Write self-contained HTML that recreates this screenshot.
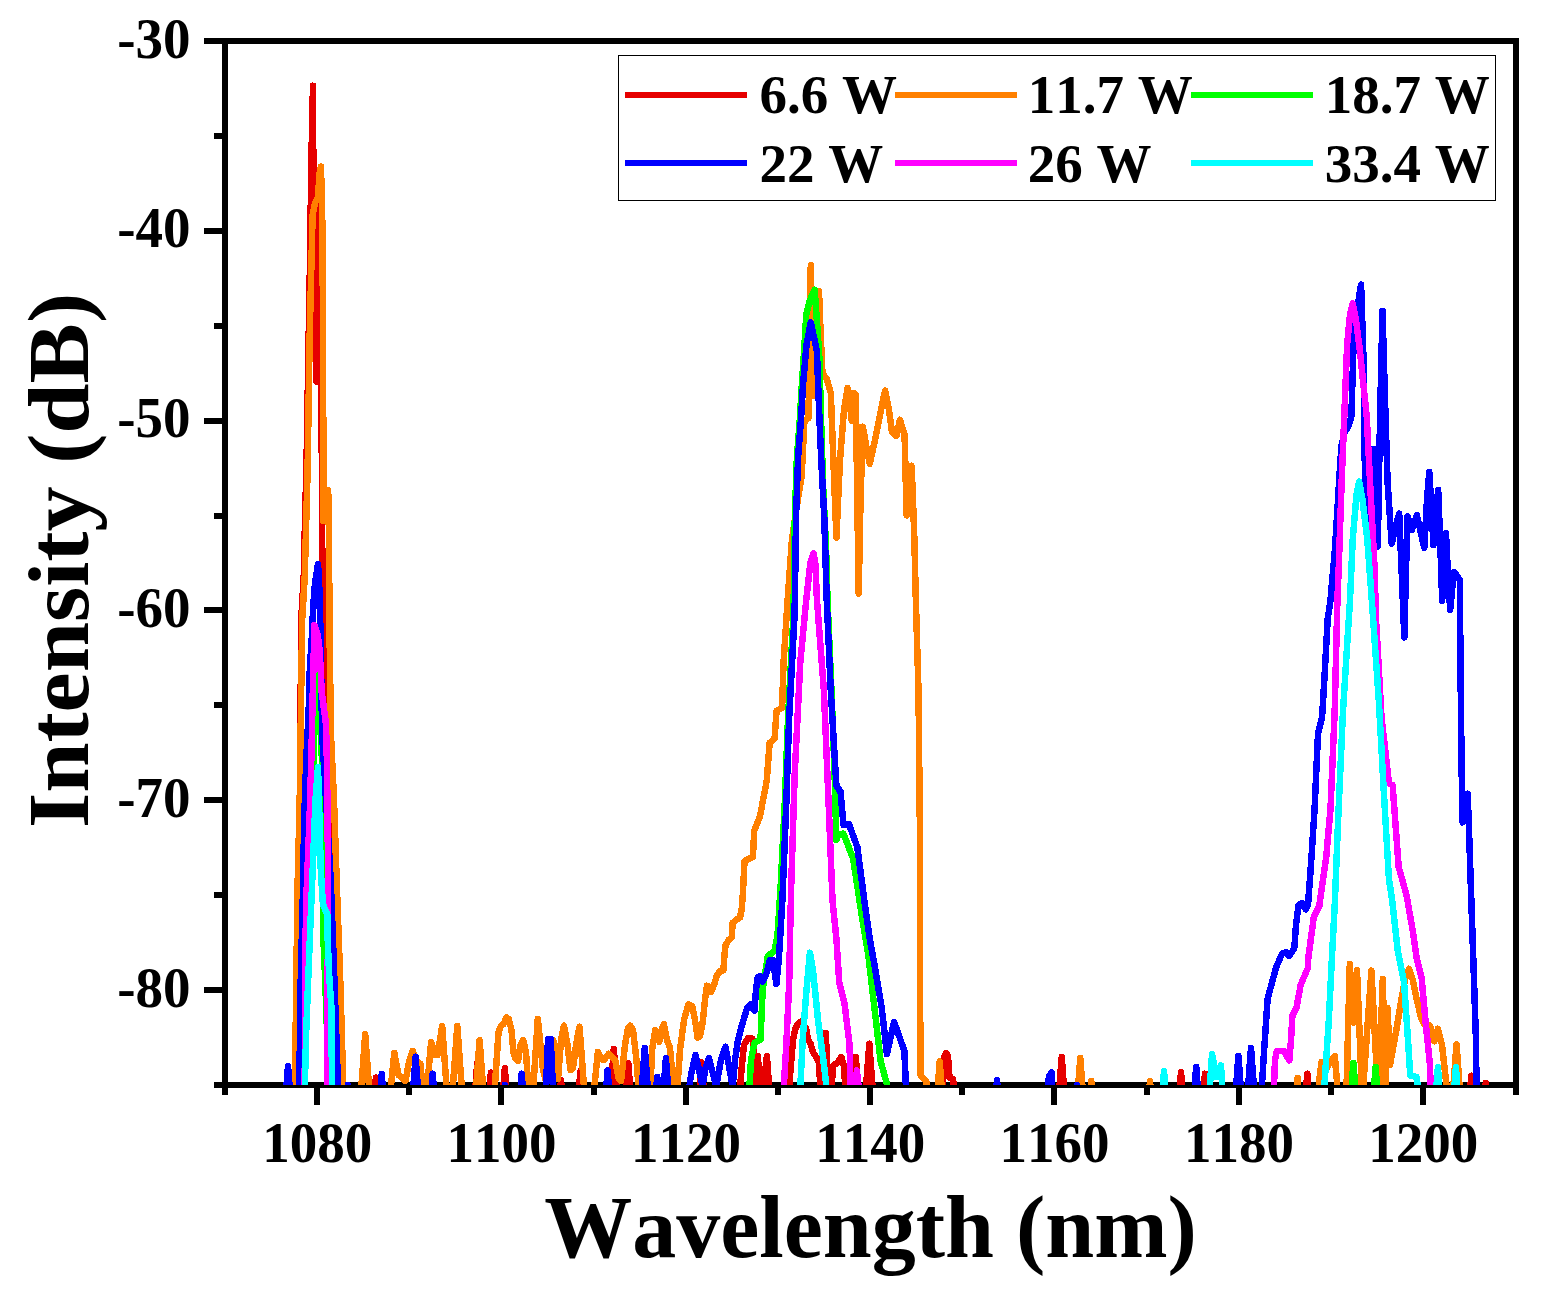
<!DOCTYPE html>
<html lang="en"><head><meta charset="utf-8"><title>Intensity vs Wavelength</title>
<style>html,body{margin:0;padding:0;background:#fff}body{width:1547px;height:1293px;overflow:hidden}svg{display:block}text{font-family:"Liberation Serif",serif;font-weight:bold;fill:#000;font-kerning:none}</style></head><body>
<svg width="1547" height="1293" viewBox="0 0 1547 1293">
<rect width="1547" height="1293" fill="#fff"/>
<defs><clipPath id="plot"><rect x="225" y="41" width="1291" height="1044"/></clipPath></defs>
<g fill="#000" shape-rendering="crispEdges">
<rect x="214" y="38" width="1305" height="6"/>
<rect x="214" y="1082" width="1305" height="6"/>
<rect x="222" y="38" width="6" height="1057"/>
<rect x="1513" y="38" width="6" height="1057"/>
<rect x="314" y="1088" width="6" height="17"/>
<rect x="406" y="1088" width="6" height="7"/>
<rect x="498" y="1088" width="6" height="17"/>
<rect x="591" y="1088" width="6" height="7"/>
<rect x="683" y="1088" width="6" height="17"/>
<rect x="775" y="1088" width="6" height="7"/>
<rect x="867" y="1088" width="6" height="17"/>
<rect x="959" y="1088" width="6" height="7"/>
<rect x="1051" y="1088" width="6" height="17"/>
<rect x="1144" y="1088" width="6" height="7"/>
<rect x="1236" y="1088" width="6" height="17"/>
<rect x="1328" y="1088" width="6" height="7"/>
<rect x="1420" y="1088" width="6" height="17"/>
<rect x="204" y="38" width="18" height="6"/>
<rect x="214" y="133" width="8" height="6"/>
<rect x="204" y="228" width="18" height="6"/>
<rect x="214" y="323" width="8" height="6"/>
<rect x="204" y="418" width="18" height="6"/>
<rect x="214" y="513" width="8" height="6"/>
<rect x="204" y="607" width="18" height="6"/>
<rect x="214" y="702" width="8" height="6"/>
<rect x="204" y="797" width="18" height="6"/>
<rect x="214" y="892" width="8" height="6"/>
<rect x="204" y="987" width="18" height="6"/>
</g>
<g clip-path="url(#plot)" fill="none" stroke-width="6.5" stroke-linejoin="round" stroke-linecap="round" shape-rendering="crispEdges">
<polyline stroke="#e60000" points="226.0,1100.0 297.0,1100.0 298.5,1085.0 300.0,800.0 301.2,619.0 303.7,578.0 305.0,520.0 306.4,470.0 307.6,400.0 308.6,340.0 310.2,250.0 311.2,172.0 312.2,120.0 313.0,85.7 313.1,120.0 313.3,157.0 314.0,200.0 315.3,300.0 316.3,381.5 317.8,300.0 319.5,178.0 321.0,300.0 321.7,430.0 322.0,540.0 325.0,627.0 327.0,680.0 333.0,881.0 338.0,1100.0 374.1,1100.0 375.9,1077.6 377.7,1100.0 474.5,1100.0 477.3,1062.5 480.1,1100.0 488.8,1100.0 490.9,1072.6 493.0,1100.0 502.4,1100.0 504.8,1068.3 507.2,1100.0 559.4,1100.0 561.0,1080.0 562.6,1100.0 578.2,1100.0 580.4,1071.2 582.6,1100.0 610.0,1100.0 613.8,1048.9 617.6,1100.0 625.5,1100.0 628.3,1063.5 631.1,1100.0 698.9,1100.0 701.7,1062.3 704.5,1100.0 739.0,1100.0 741.5,1070.0 744.0,1045.0 748.0,1038.0 752.4,1038.5 755.0,1060.0 755.5,1086.0 757.6,1056.0 762.2,1100.0 766.9,1056.0 770.0,1100.0 788.0,1100.0 790.5,1070.0 793.0,1040.0 795.8,1027.0 799.0,1023.0 802.0,1021.0 803.0,1023.0 806.2,1029.0 808.0,1040.0 810.3,1043.0 813.0,1052.0 818.6,1061.0 821.5,1100.0 823.0,1100.0 825.8,1033.0 828.5,1100.0 831.0,1100.0 833.0,1066.0 838.0,1062.0 841.3,1057.0 844.0,1066.0 846.0,1100.0 852.6,1100.0 855.8,1057.0 859.0,1100.0 865.1,1100.0 869.3,1043.7 873.5,1100.0 942.0,1100.0 944.5,1056.0 946.3,1053.0 948.0,1056.0 949.5,1078.0 953.0,1079.0 956.0,1100.0 1058.5,1100.0 1061.7,1057.0 1064.9,1100.0 1178.8,1100.0 1181.0,1072.0 1183.2,1100.0 1202.9,1100.0 1205.0,1073.7 1207.1,1100.0 1305.2,1100.0 1307.3,1073.7 1309.4,1100.0 1469.4,1100.0 1471.3,1075.7 1473.2,1100.0 1484.4,1100.0 1485.8,1083.0 1487.2,1100.0 1515.0,1100.0"/>
<polyline stroke="#ff8000" points="292.5,1100.0 294.6,1085.0 296.0,1009.0 297.4,893.0 299.7,800.0 302.2,619.0 304.7,578.0 307.6,470.0 309.6,340.0 311.5,260.0 312.6,215.0 315.0,203.0 317.8,198.0 319.8,172.0 321.0,166.5 322.5,230.0 323.0,340.0 323.3,430.0 323.3,521.0 328.2,490.0 329.0,540.0 329.6,637.0 331.0,735.0 334.0,800.0 337.1,893.0 340.4,985.0 342.4,1055.0 343.3,1083.0 344.5,1100.0 360.4,1100.0 365.2,1034.4 370.0,1100.0 389.5,1100.0 394.3,1052.8 398.5,1075.0 402.0,1078.0 405.5,1081.0 409.0,1062.0 412.7,1050.9 416.5,1061.0 420.5,1064.0 423.5,1100.0 426.0,1100.0 431.1,1042.1 435.0,1055.0 437.5,1055.0 442.2,1026.0 447.5,1100.0 451.9,1100.0 457.3,1026.0 462.7,1100.0 475.2,1100.0 479.6,1040.2 484.0,1100.0 494.0,1100.0 498.5,1032.0 501.0,1025.7 503.5,1024.0 506.5,1017.5 508.7,1018.9 511.5,1030.0 513.5,1053.0 515.5,1058.6 518.0,1061.0 520.5,1045.0 523.2,1040.2 526.0,1052.0 529.0,1100.0 532.5,1100.0 537.8,1018.9 543.0,1070.0 546.0,1081.0 549.0,1050.0 553.3,1040.0 556.0,1060.0 558.0,1079.0 561.0,1040.0 564.0,1025.7 567.5,1045.0 570.5,1070.0 573.0,1068.0 576.0,1045.0 579.5,1026.6 585.0,1100.0 593.0,1100.0 597.9,1051.8 601.5,1059.0 604.0,1060.0 608.6,1053.8 612.0,1057.0 615.4,1060.6 618.5,1078.0 621.0,1081.0 625.0,1045.0 628.0,1028.0 630.3,1025.7 633.0,1030.0 636.5,1060.0 639.5,1100.0 650.0,1100.0 652.0,1050.0 655.2,1030.2 659.3,1041.8 661.5,1030.0 663.9,1024.0 667.0,1040.0 670.0,1048.0 674.8,1100.0 676.5,1100.0 680.0,1050.0 684.0,1020.0 688.3,1004.5 692.4,1006.4 695.0,1020.0 697.6,1037.7 700.0,1036.0 702.7,1022.0 705.0,1000.0 706.9,985.7 709.0,987.0 711.0,992.0 714.0,985.0 717.2,974.5 720.5,971.0 723.4,970.3 724.5,955.0 725.5,945.5 728.5,940.0 731.7,937.2 732.2,930.0 732.7,922.8 736.0,920.0 740.0,917.6 741.8,908.5 743.1,890.0 744.5,861.0 752.9,857.0 754.3,830.6 759.9,816.6 766.8,780.4 769.6,742.9 774.6,738.7 776.6,710.8 782.1,708.0 783.5,663.5 787.7,599.0 789.1,580.0 791.9,540.7 797.0,505.0 801.6,476.6 803.5,440.0 804.4,421.0 808.6,418.0 809.3,340.0 810.8,265.3 811.5,330.0 812.8,395.7 815.5,340.0 819.0,291.0 820.5,330.0 822.5,373.6 826.7,379.0 830.8,393.0 833.0,450.0 836.4,537.7 840.0,460.0 844.0,410.0 847.6,387.8 849.5,400.0 851.7,420.7 853.5,393.0 855.9,394.7 857.0,480.0 858.7,593.5 860.5,500.0 862.9,426.7 866.0,445.0 869.8,463.9 875.0,440.0 881.0,410.0 885.1,390.5 889.0,410.0 892.0,432.0 896.3,436.0 899.9,419.8 904.6,434.9 906.6,515.4 909.0,480.0 911.6,465.7 913.0,500.0 914.4,540.0 915.8,599.0 918.5,691.0 919.9,830.0 920.2,1000.0 920.4,1075.0 926.2,1081.0 928.2,1100.0 936.8,1100.0 939.7,1061.3 942.6,1100.0 1077.1,1100.0 1080.3,1058.0 1083.5,1100.0 1089.8,1100.0 1091.3,1081.0 1092.8,1100.0 1148.5,1100.0 1150.0,1081.0 1151.5,1100.0 1295.8,1100.0 1297.6,1077.8 1299.4,1100.0 1317.0,1100.0 1321.4,1062.3 1325.0,1072.0 1330.0,1062.0 1334.8,1056.0 1338.5,1100.0 1346.2,1100.0 1347.8,1040.0 1349.8,964.0 1353.4,1022.6 1357.0,970.0 1362.3,1100.0 1371.4,970.6 1378.3,1100.0 1382.8,979.0 1385.5,1100.0 1387.5,1008.0 1390.0,1065.0 1396.0,1032.0 1402.0,996.0 1406.0,975.0 1409.1,968.8 1412.7,979.6 1415.7,994.5 1421.0,1018.0 1426.0,1027.0 1430.1,1025.7 1434.3,1041.3 1437.9,1028.7 1442.0,1045.0 1448.1,1100.0 1452.4,1100.0 1456.5,1044.3 1460.6,1100.0 1515.0,1100.0"/>
<polyline stroke="#00ff00" points="226.0,1100.0 304.5,1100.0 306.0,1000.0 309.0,900.0 312.0,800.0 315.5,700.0 318.4,661.0 320.4,700.0 321.6,735.0 322.3,830.0 323.0,930.0 325.0,975.0 329.5,1100.0 748.7,1100.0 751.0,1060.0 754.5,1042.7 758.0,1041.0 760.5,1040.0 762.7,989.0 767.9,955.9 774.5,951.0 777.5,935.0 779.3,908.0 781.0,880.0 784.8,802.7 788.0,719.0 793.2,620.0 793.7,599.0 794.8,518.0 796.9,457.0 799.9,418.0 801.8,385.0 804.5,345.0 806.2,315.0 810.0,300.0 814.7,289.8 817.5,330.0 819.5,360.0 821.0,418.0 823.3,490.6 826.0,546.0 827.5,599.0 831.5,691.0 834.5,770.0 836.4,840.0 838.0,835.0 843.4,833.6 853.1,858.4 861.5,914.0 865.6,939.0 868.2,953.8 874.4,1007.6 880.7,1061.4 886.9,1084.0 888.0,1100.0 1350.6,1100.0 1353.4,1063.0 1356.2,1100.0 1373.1,1100.0 1375.6,1067.0 1378.1,1100.0 1515.0,1100.0"/>
<polyline stroke="#0000ff" points="226.0,1100.0 285.4,1100.0 288.0,1066.0 290.6,1100.0 299.0,1100.0 299.4,1080.0 300.6,985.0 302.9,893.0 304.2,819.0 306.4,756.5 308.6,713.0 309.8,670.0 311.8,637.0 313.3,605.0 315.0,583.0 318.0,564.0 319.2,583.0 319.6,605.0 320.8,637.0 321.5,700.0 322.5,740.0 326.0,800.0 330.8,881.0 334.2,974.0 338.5,1100.0 346.5,1100.0 347.8,1084.8 349.1,1100.0 379.7,1100.0 381.7,1074.0 383.7,1100.0 412.4,1100.0 415.6,1056.7 418.8,1100.0 430.6,1100.0 432.7,1073.7 434.8,1100.0 503.5,1100.0 504.8,1085.0 506.1,1100.0 519.6,1100.0 521.7,1073.7 523.8,1100.0 545.5,1100.0 548.0,1039.0 550.7,1039.0 553.5,1100.0 605.3,1100.0 607.6,1070.3 609.9,1100.0 640.9,1100.0 644.8,1047.8 648.7,1100.0 655.4,1100.0 657.2,1076.8 659.0,1100.0 662.8,1100.0 665.9,1058.0 669.0,1100.0 687.5,1100.0 691.0,1075.0 695.5,1055.0 699.0,1070.0 702.5,1086.0 705.5,1068.0 709.0,1058.0 712.5,1072.0 716.2,1086.0 721.0,1060.0 725.5,1046.8 729.0,1066.0 732.7,1087.0 735.0,1060.0 737.9,1040.7 742.0,1025.0 747.2,1007.6 750.3,1004.4 754.5,1010.8 756.0,990.0 757.6,977.5 760.0,976.0 762.7,981.8 766.0,975.0 770.0,960.0 773.0,959.9 775.0,975.0 776.4,983.9 778.8,960.0 780.6,930.0 782.4,900.0 783.2,880.0 786.3,802.7 789.1,719.0 794.3,620.0 794.9,599.0 796.0,518.0 798.1,457.0 801.1,418.0 803.0,385.0 806.5,345.0 810.8,322.3 816.9,351.0 819.4,418.0 821.1,457.0 824.3,518.0 826.7,599.0 830.8,691.0 836.4,785.8 840.6,791.8 843.4,824.8 848.9,823.8 857.3,847.0 864.3,900.0 869.8,939.0 874.0,962.0 881.7,1007.6 886.9,1054.2 890.0,1040.0 894.1,1022.0 899.3,1036.5 904.4,1051.0 906.5,1100.0 995.4,1100.0 997.0,1079.9 998.6,1100.0 1046.5,1100.0 1049.0,1076.0 1051.8,1072.6 1052.8,1100.0 1075.7,1100.0 1077.0,1085.0 1078.3,1100.0 1193.7,1100.0 1196.2,1066.9 1198.7,1100.0 1235.1,1100.0 1238.4,1056.0 1241.7,1100.0 1247.1,1100.0 1251.0,1047.8 1254.9,1100.0 1261.0,1100.0 1264.5,1044.8 1267.6,999.0 1275.9,968.0 1282.0,953.7 1286.0,952.0 1289.3,956.0 1294.3,948.0 1296.0,925.0 1298.5,905.0 1302.0,903.0 1305.8,909.4 1308.0,905.0 1311.0,864.5 1314.6,808.8 1318.0,733.6 1322.1,717.0 1324.9,669.6 1327.7,619.0 1330.5,600.0 1334.7,552.3 1337.4,510.6 1339.8,470.0 1341.5,446.0 1344.5,433.0 1349.0,425.0 1351.4,416.0 1354.1,326.8 1361.1,284.7 1363.9,371.0 1364.5,455.0 1368.0,537.0 1371.5,480.0 1373.6,449.0 1376.0,500.0 1377.8,546.5 1380.0,420.0 1382.5,310.9 1385.0,400.0 1387.6,482.7 1391.7,543.7 1396.0,525.0 1399.2,513.6 1402.0,580.0 1404.3,637.4 1406.0,570.0 1407.6,516.3 1412.0,529.8 1416.8,515.0 1424.3,547.9 1427.0,500.0 1429.3,471.8 1431.5,510.0 1433.5,545.0 1436.0,510.0 1438.2,489.9 1440.5,550.0 1442.2,601.0 1444.0,560.0 1446.0,533.0 1448.0,575.0 1450.2,610.0 1452.5,585.0 1454.4,572.0 1459.9,580.0 1460.5,669.6 1461.9,789.0 1462.7,822.5 1467.7,793.7 1469.7,850.6 1471.3,900.0 1473.4,962.0 1476.1,1044.8 1476.5,1100.0 1515.0,1100.0"/>
<polyline stroke="#ff00ff" points="226.0,1100.0 304.5,1100.0 305.0,1040.0 305.5,940.0 306.5,893.0 309.5,819.0 311.4,756.5 312.8,691.6 313.9,648.0 314.3,625.0 317.5,634.0 319.7,650.0 321.7,692.0 324.5,713.0 326.0,724.0 326.8,757.0 327.4,800.0 328.2,893.0 327.5,1000.0 327.0,1100.0 783.0,1100.0 786.3,1044.8 789.2,982.7 790.0,939.0 791.2,886.0 794.7,774.9 800.2,663.5 806.3,599.0 810.5,562.0 813.6,553.4 815.5,565.0 816.9,599.0 823.9,691.0 828.6,802.7 830.8,858.0 832.5,900.0 836.4,939.0 839.3,982.7 844.5,1003.4 849.6,1044.8 850.7,1100.0 853.8,1100.0 856.9,1070.6 860.0,1100.0 1273.4,1100.0 1275.0,1060.0 1276.9,1051.0 1284.0,1051.0 1289.3,1060.4 1291.0,1040.0 1292.4,1015.8 1296.5,1007.6 1300.7,984.8 1307.9,968.0 1308.2,959.0 1313.8,917.0 1319.3,906.0 1326.3,856.0 1330.5,808.8 1334.7,711.0 1337.4,600.0 1338.8,566.0 1341.6,482.7 1344.4,413.0 1347.2,343.5 1350.0,315.0 1352.8,303.4 1356.0,320.0 1359.7,349.0 1366.7,416.0 1370.8,496.6 1374.5,566.0 1376.0,619.0 1381.5,717.0 1389.0,783.7 1392.6,785.0 1398.7,867.0 1406.5,895.0 1412.8,931.0 1416.8,959.0 1421.7,978.6 1425.8,1024.0 1430.0,1065.5 1431.0,1100.0 1515.0,1100.0"/>
<polyline stroke="#00ffff" points="226.0,1100.0 304.6,1100.0 304.9,1083.0 306.2,1032.0 308.0,985.0 310.3,927.0 312.7,870.0 315.5,800.0 318.0,767.0 319.5,820.0 320.8,870.0 322.9,904.0 327.5,915.0 327.7,939.0 329.1,974.0 331.5,1009.0 331.9,1083.0 332.2,1100.0 799.6,1100.0 803.0,1035.0 806.5,990.0 809.9,952.7 813.0,970.0 818.0,1020.0 824.0,1065.0 827.9,1100.0 1161.8,1100.0 1164.0,1071.0 1166.2,1100.0 1209.0,1100.0 1212.0,1054.0 1216.5,1077.0 1221.0,1065.4 1223.0,1100.0 1323.4,1100.0 1328.6,1024.0 1331.7,962.0 1334.7,906.0 1338.0,822.7 1343.0,711.0 1350.0,600.0 1352.8,538.4 1356.5,495.0 1359.2,481.5 1362.5,500.0 1367.2,538.0 1371.8,600.0 1378.6,697.4 1384.0,794.9 1388.9,878.4 1392.1,900.0 1397.9,951.7 1404.1,982.7 1408.3,1044.8 1410.3,1075.8 1416.5,1076.9 1419.6,1100.0 1435.4,1100.0 1437.9,1067.0 1440.4,1100.0 1453.4,1100.0 1455.9,1067.0 1458.4,1100.0 1515.0,1100.0"/>
</g>
<text transform="translate(317.3,1161.7) scale(1,1.04)" font-size="55" text-anchor="middle">1080</text>
<text transform="translate(501.6,1161.7) scale(1,1.04)" font-size="55" text-anchor="middle">1100</text>
<text transform="translate(686.0,1161.7) scale(1,1.04)" font-size="55" text-anchor="middle">1120</text>
<text transform="translate(870.3,1161.7) scale(1,1.04)" font-size="55" text-anchor="middle">1140</text>
<text transform="translate(1054.6,1161.7) scale(1,1.04)" font-size="55" text-anchor="middle">1160</text>
<text transform="translate(1239.0,1161.7) scale(1,1.04)" font-size="55" text-anchor="middle">1180</text>
<text transform="translate(1423.3,1161.7) scale(1,1.04)" font-size="55" text-anchor="middle">1200</text>
<text transform="translate(190.5,57.6) scale(1,1.04)" font-size="55" text-anchor="end">-30</text>
<text transform="translate(190.5,247.4) scale(1,1.04)" font-size="55" text-anchor="end">-40</text>
<text transform="translate(190.5,437.2) scale(1,1.04)" font-size="55" text-anchor="end">-50</text>
<text transform="translate(190.5,627.1) scale(1,1.04)" font-size="55" text-anchor="end">-60</text>
<text transform="translate(190.5,816.9) scale(1,1.04)" font-size="55" text-anchor="end">-70</text>
<text transform="translate(190.5,1006.7) scale(1,1.04)" font-size="55" text-anchor="end">-80</text>
<text x="870.5" y="1257.0" font-size="88" text-anchor="middle">Wavelength (nm)</text>
<text transform="translate(87.6,560.5) rotate(-90)" font-size="87.5" text-anchor="middle" textLength="535" lengthAdjust="spacingAndGlyphs">Intensity (dB)</text>
<rect x="618.5" y="55.5" width="877" height="144.5" fill="#fff" stroke="#000" stroke-width="1" shape-rendering="crispEdges"/>
<rect x="625" y="92" width="122" height="6" fill="#e60000" shape-rendering="crispEdges"/>
<text x="759.6" y="113.3" font-size="55">6.6 W</text>
<rect x="895" y="92" width="122" height="6" fill="#ff8000" shape-rendering="crispEdges"/>
<text x="1027.7" y="113.3" font-size="55">11.7 W</text>
<rect x="1191" y="92" width="122" height="6" fill="#00ff00" shape-rendering="crispEdges"/>
<text x="1324.7" y="113.3" font-size="55">18.7 W</text>
<rect x="625" y="160" width="122" height="6" fill="#0000ff" shape-rendering="crispEdges"/>
<text x="759.6" y="181.8" font-size="55">22 W</text>
<rect x="895" y="160" width="122" height="6" fill="#ff00ff" shape-rendering="crispEdges"/>
<text x="1027.7" y="181.8" font-size="55">26 W</text>
<rect x="1191" y="160" width="122" height="6" fill="#00ffff" shape-rendering="crispEdges"/>
<text x="1324.7" y="181.8" font-size="55">33.4 W</text>
</svg></body></html>
